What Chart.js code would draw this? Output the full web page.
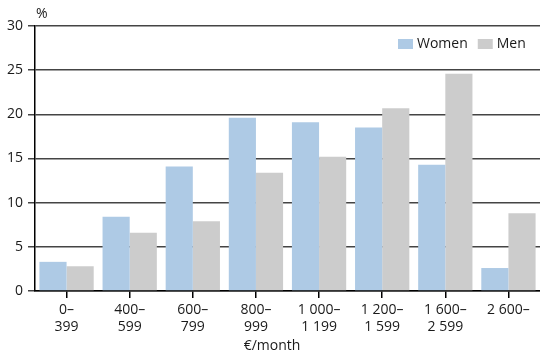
<!DOCTYPE html>
<html>
<head>
<meta charset="utf-8">
<script src="https://cdn.jsdelivr.net/npm/chart.js@4.4.1/dist/chart.umd.min.js"></script>
<style>
    html, body { margin: 0; padding: 0; background: #fff; }
    #wrap { width: 540px; height: 353px; position: relative; }
</style>
</head>
<body>
<div id="wrap"><canvas id="grafico"></canvas></div>
<script>
// Datos del gráfico
const categorias = [['0–', '399'], ['400–', '599'], ['600–', '799'], ['800–', '999'],
    ['1 000–', '1 199'], ['1 200–', '1 599'], ['1 600–', '2 599'], ['2 600–']]
const mujeres = [3.3, 8.4, 14.1, 19.6, 19.1, 18.5, 14.3, 2.6]
const hombres = [2.8, 6.6, 7.9, 13.4, 15.2, 20.7, 24.6, 8.8]
const ticksY = [0, 5, 10, 15, 20, 25, 30]
const unidadY = '%'
const tituloX = '€/month'

const fuente = 'Open Sans'
const colorMujeres = '#aecae5'
const colorHombres = '#cccccc'

// Plugin para leyenda dentro del área y textos extra
const textosExtra = {
    id: 'textosExtra',
    afterDraw(chart) {
        const ctx = chart.ctx
        ctx.save()
        ctx.fillStyle = '#1a1a1a'
        ctx.font = '14px "' + fuente + '"'
        ctx.textBaseline = 'middle'
        ctx.textAlign = 'left'
        ctx.fillText(unidadY, 36, 14)

        ctx.textAlign = 'center'
        ctx.fillText(tituloX, 272, 346)

        // leyenda
        ctx.textAlign = 'left'
        let x = 398
        const y = 44
        chart.data.datasets.forEach(ds => {
            ctx.fillStyle = ds.backgroundColor
            ctx.fillRect(x, y - 5, 15, 10)
            ctx.fillStyle = '#1a1a1a'
            ctx.fillText(ds.label, x + 19, y)
            x += 19 + ctx.measureText(ds.label).width + 10
        })
        ctx.restore()
    }
}

const ctx = document.getElementById('grafico').getContext('2d')
new Chart(ctx, {
    type: 'bar',
    data: {
        labels: categorias,
        datasets: [
            { label: 'Women', data: mujeres, backgroundColor: colorMujeres },
            { label: 'Men', data: hombres, backgroundColor: colorHombres }
        ]
    },
    options: {
        responsive: true,
        maintainAspectRatio: false,
        animation: false,
        layout: { padding: { top: 26, right: 0, left: 0, bottom: 0 } },
        datasets: { bar: { categoryPercentage: 0.86, barPercentage: 1 } },
        plugins: {
            legend: { display: false },
            tooltip: { enabled: false }
        },
        scales: {
            x: {
                afterFit(scale) { scale.height = 62 },
                grid: { offset: false, drawOnChartArea: false, drawTicks: true, tickLength: 7, color: '#000', lineWidth: 1.5 },
                border: { color: '#000', width: 1.5 },
                ticks: {
                    color: '#1a1a1a',
                    padding: 4,
                    maxRotation: 0,
                    autoSkip: false,
                    font: { family: fuente, size: 14, lineHeight: 1.2 }
                }
            },
            y: {
                min: 0,
                max: 30,
                afterFit(scale) { scale.width = 35 },
                afterBuildTicks(scale) { scale.ticks = ticksY.map(v => ({ value: v })) },
                grid: { color: '#444', lineWidth: 1.5, tickLength: 7 },
                border: { color: '#000', width: 1.5 },
                ticks: {
                    color: '#1a1a1a',
                    padding: 5,
                    font: { family: fuente, size: 14 }
                }
            }
        }
    },
    plugins: [textosExtra]
})
</script>
</body>
</html>
